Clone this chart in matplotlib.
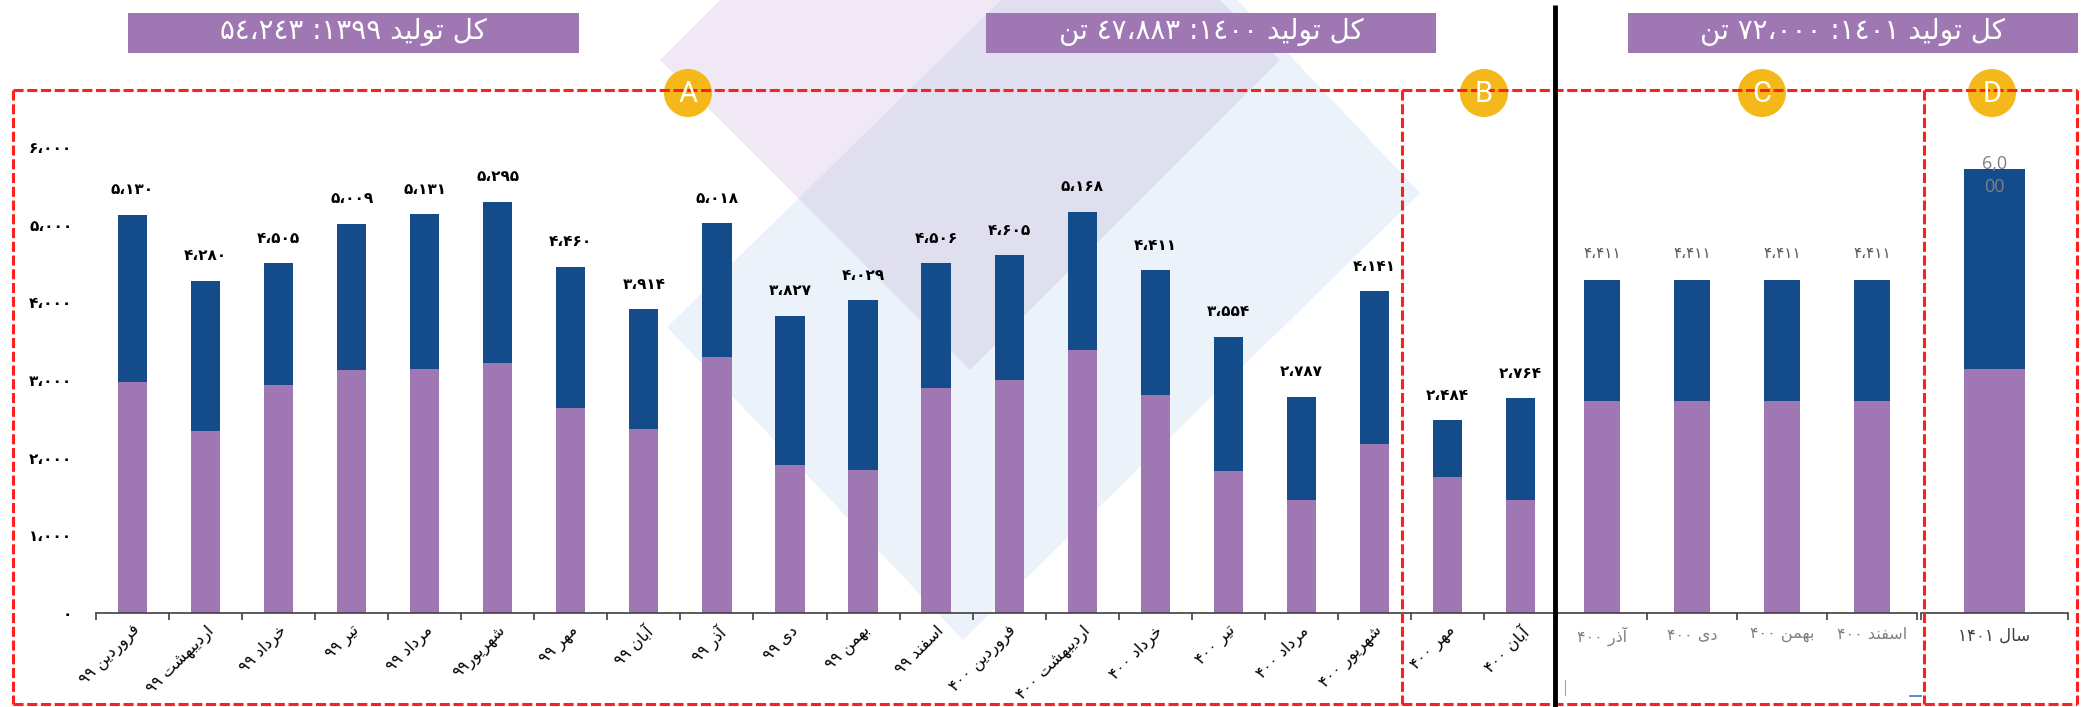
import re
import numpy as np
import matplotlib
matplotlib.use('Agg')
import matplotlib.pyplot as plt
import matplotlib.patches as patches

# ---------------- data ----------------
months_ab = ['فروردین ۹۹', 'اردیبهشت ۹۹', 'خرداد ۹۹', 'تیر ۹۹', 'مرداد ۹۹', 'شهریور۹۹',
             'مهر ۹۹', 'آبان ۹۹', 'آذر ۹۹', 'دی ۹۹', 'بهمن ۹۹', 'اسفند ۹۹',
             'فروردین ۴۰۰', 'اردیبهشت ۴۰۰', 'خرداد ۴۰۰', 'تیر ۴۰۰', 'مرداد ۴۰۰',
             'شهریور ۴۰۰', 'مهر ۴۰۰', 'آبان ۴۰۰']
totals_ab = [5130, 4280, 4505, 5009, 5131, 5295, 4460, 3914, 5018, 3827,
             4029, 4506, 4605, 5168, 4411, 3554, 2787, 4141, 2484, 2764]
purple_ab = [2977, 2342, 2934, 3127, 3136, 3213, 2643, 2364, 3290, 1909,
             1840, 2896, 3003, 3389, 2806, 1828, 1459, 2171, 1750, 1454]

months_c = ['آذر ۴۰۰', 'دی ۴۰۰', 'بهمن ۴۰۰', 'اسفند ۴۰۰']
totals_c = [4411, 4411, 4411, 4411]
purple_c = [2806, 2806, 2806, 2806]

months_d = ['سال ۱۴۰۱']
totals_d = [6000]
purple_d = [3300]

yticks = [0, 1000, 2000, 3000, 4000, 5000, 6000]

titles = ['کل تولید ۱۳۹۹: ۵٤،۲٤۳', 'کل تولید ۱٤۰۰: ٤۷،۸۸۳ تن', 'کل تولید ۱٤۰۱: ۷۲،۰۰۰ تن']
letters = ['A', 'B', 'C', 'D']

PURPLE = '#9E77B3'
BLUE = '#134B8B'
RED = '#FF1F1F'
GOLD = '#F4B81A'

# ---------------- persian text helpers (no shaping in matplotlib) ----------------
FORMS = {
    '\u0627': ('\uFE8D', '\uFE8E', None, None),
    '\u0622': ('\uFE81', '\uFE82', None, None),
    '\u0628': ('\uFE8F', '\uFE90', '\uFE91', '\uFE92'),
    '\u062A': ('\uFE95', '\uFE96', '\uFE97', '\uFE98'),
    '\u062E': ('\uFEA5', '\uFEA6', '\uFEA7', '\uFEA8'),
    '\u062F': ('\uFEA9', '\uFEAA', None, None),
    '\u0630': ('\uFEAB', '\uFEAC', None, None),
    '\u0631': ('\uFEAD', '\uFEAE', None, None),
    '\u0633': ('\uFEB1', '\uFEB2', '\uFEB3', '\uFEB4'),
    '\u0634': ('\uFEB5', '\uFEB6', '\uFEB7', '\uFEB8'),
    '\u0641': ('\uFED1', '\uFED2', '\uFED3', '\uFED4'),
    '\u0644': ('\uFEDD', '\uFEDE', '\uFEDF', '\uFEE0'),
    '\u0645': ('\uFEE1', '\uFEE2', '\uFEE3', '\uFEE4'),
    '\u0646': ('\uFEE5', '\uFEE6', '\uFEE7', '\uFEE8'),
    '\u0647': ('\uFEE9', '\uFEEA', '\uFEEB', '\uFEEC'),
    '\u0648': ('\uFEED', '\uFEEE', None, None),
    '\u06CC': ('\uFBFC', '\uFBFD', '\uFBFE', '\uFBFF'),
    '\u06A9': ('\uFB8E', '\uFB8F', '\uFB90', '\uFB91'),
}


def shape(word):
    word = word.replace('\u064A', '\u06CC').replace('\u0643', '\u06A9')
    out = []
    for i, c in enumerate(word):
        if c not in FORMS:
            out.append(c)
            continue
        prev = word[i - 1] if i > 0 else None
        nxt = word[i + 1] if i + 1 < len(word) else None
        jp = prev in FORMS and FORMS[prev][2] is not None
        jn = nxt in FORMS and FORMS[c][2] is not None
        isol, fina, init, medi = FORMS[c]
        out.append(medi if jp and jn else fina if jp else init if jn else isol)
    return ''.join(out)


NUM = '0-9\u0660-\u0669\u06F0-\u06F9\u060C,:'


def rtl(text):
    toks = re.findall(rf'[{NUM}]+|\s+|[^\s{NUM}]+', text)
    out = []
    for t in reversed(toks):
        if re.match(rf'[{NUM}]', t):
            if t.endswith(':'):
                t = ':' + t[:-1]
            out.append(t)
        elif t.isspace():
            out.append(t)
        else:
            out.append(shape(t)[::-1])
    return ''.join(out)


FA = str.maketrans('0123456789,', '۰۱۲۳۴۵۶۷۸۹،')


def fa(v):
    return f'{v:,}'.translate(FA)


# ---------------- layout (pixels) ----------------
W, H = 2090, 707
fig = plt.figure(figsize=(W / 100, H / 100), dpi=100)


def box(l, t, r, b):
    return [l / W, 1 - b / H, (r - l) / W, (b - t) / H]


# background watermark diamonds
bg = fig.add_axes([0, 0, 1, 1], zorder=0)
bg.set_xlim(0, W)
bg.set_ylim(H, 0)
bg.axis('off')
bg.add_patch(patches.Polygon([(660, 60), (970, 370), (1280, 60), (970, -250)],
                             closed=True, fc=(0.69, 0.51, 0.76), alpha=0.18, ec='none'))
bg.add_patch(patches.Polygon([(667, 327), (963, 640), (1420, 193), (1124, -120)],
                             closed=True, fc=(0.59, 0.73, 0.88), alpha=0.18, ec='none'))


def style_axis(ax, n):
    for s in ['top', 'right', 'left']:
        ax.spines[s].set_visible(False)
    ax.spines['bottom'].set_color('#404040')
    ax.spines['bottom'].set_linewidth(1.2)
    ax.patch.set_alpha(0)
    ax.set_xlim(-0.5, n - 0.5)
    ax.set_xticks(np.arange(-0.5, n, 1), minor=True)
    ax.tick_params(axis='x', which='minor', length=5, width=1.2, color='#404040', direction='out')
    ax.tick_params(axis='x', which='major', length=0)


# ---- A + B
ax = fig.add_axes(box(96, 147, 1557, 613), zorder=1)
x = np.arange(len(months_ab))
blue_ab = np.subtract(totals_ab, purple_ab)
ax.bar(x, purple_ab, 0.4, color=PURPLE)
ax.bar(x, blue_ab, 0.4, bottom=purple_ab, color=BLUE)
style_axis(ax, len(months_ab))
ax.set_ylim(0, 6000)
ax.set_yticks(yticks)
ax.set_yticklabels([fa(v) for v in yticks], fontsize=11, fontweight='bold')
ax.tick_params(axis='y', length=0, pad=17)
ax.set_xticks(x)
ax.set_xticklabels([rtl(m) for m in months_ab], rotation=45, ha='right',
                   rotation_mode='anchor', fontsize=11.5)
ax.tick_params(axis='x', which='major', pad=7)
for i, t in enumerate(totals_ab):
    ax.annotate(fa(t), (i, t), xytext=(0, 18), textcoords='offset points',
                ha='center', va='center', fontsize=11, fontweight='bold', color='black')

# ---- C
axc = fig.add_axes(box(1557, 147, 1917, 613), zorder=1)
xc = np.arange(len(months_c))
axc.bar(xc, purple_c, 0.41, color=PURPLE)
axc.bar(xc, np.subtract(totals_c, purple_c), 0.41, bottom=purple_c, color=BLUE)
style_axis(axc, len(months_c))
axc.set_ylim(0, 6178)
axc.set_yticks([])
axc.set_xticks(xc)
axc.set_xticklabels([rtl(m) for m in months_c], fontsize=11.5, color='#808080')
axc.tick_params(axis='x', which='major', pad=10)
for i, t in enumerate(totals_c):
    axc.annotate(fa(t), (i, t), xytext=(0, 19.5), textcoords='offset points',
                 ha='center', va='center', fontsize=11, color='#595959')

# ---- D
axd = fig.add_axes(box(1921, 147, 2068, 613), zorder=1)
axd.bar([0], purple_d, 0.41, color=PURPLE)
axd.bar([0], np.subtract(totals_d, purple_d), 0.41, bottom=purple_d, color=BLUE)
style_axis(axd, 1)
axd.set_ylim(0, 6302)
axd.set_yticks([])
axd.set_xticks([0])
axd.set_xticklabels([rtl(m) for m in months_d], fontsize=12, color='#404040')
axd.tick_params(axis='x', which='major', pad=10)
axd.annotate('6,0\n00', (0, totals_d[0]), xytext=(0, -4.5), textcoords='offset points',
             ha='center', va='center', fontsize=13, color='#808080',
             family='Open Sans', linespacing=1.3)

# ---- overlay: titles, dashed boxes, badges, divider
ov = fig.add_axes([0, 0, 1, 1], zorder=3)
ov.set_xlim(0, W)
ov.set_ylim(H, 0)
ov.axis('off')
ov.patch.set_alpha(0)

for (l, r), t in zip([(128, 579), (986, 1436), (1628, 2078)], titles):
    ov.add_patch(patches.Rectangle((l, 13), r - l, 40, fc=PURPLE, ec='none'))
    ov.text((l + r) / 2, 32, rtl(t), color='white', fontsize=20, ha='center', va='center')

dash = dict(color=RED, lw=2.2, ls=(0, (3.3, 1.2)))
ov.plot([13, 2077], [90, 90], **dash)
ov.plot([13, 2077], [704, 704], **dash)
for xv in [13, 1402, 1924, 2077]:
    ov.plot([xv, xv], [90, 704], **dash)

ov.plot([1555, 1555], [5, 707], color='black', lw=3.5, solid_capstyle='butt')
ov.plot([1565, 1565], [680, 695], color='#A0A0A0', lw=0.8)
ov.plot([1910, 1921], [696, 696], color='#4472C4', lw=1.2)

for cx, lt in zip([688, 1484, 1762, 1992], letters):
    ov.add_patch(patches.Circle((cx, 93), 24, fc=GOLD, ec='none'))
    ov.text(cx, 94, lt, color='white', fontsize=21, ha='center', va='center', family='Roboto')

fig.savefig('out.png', dpi=100)
